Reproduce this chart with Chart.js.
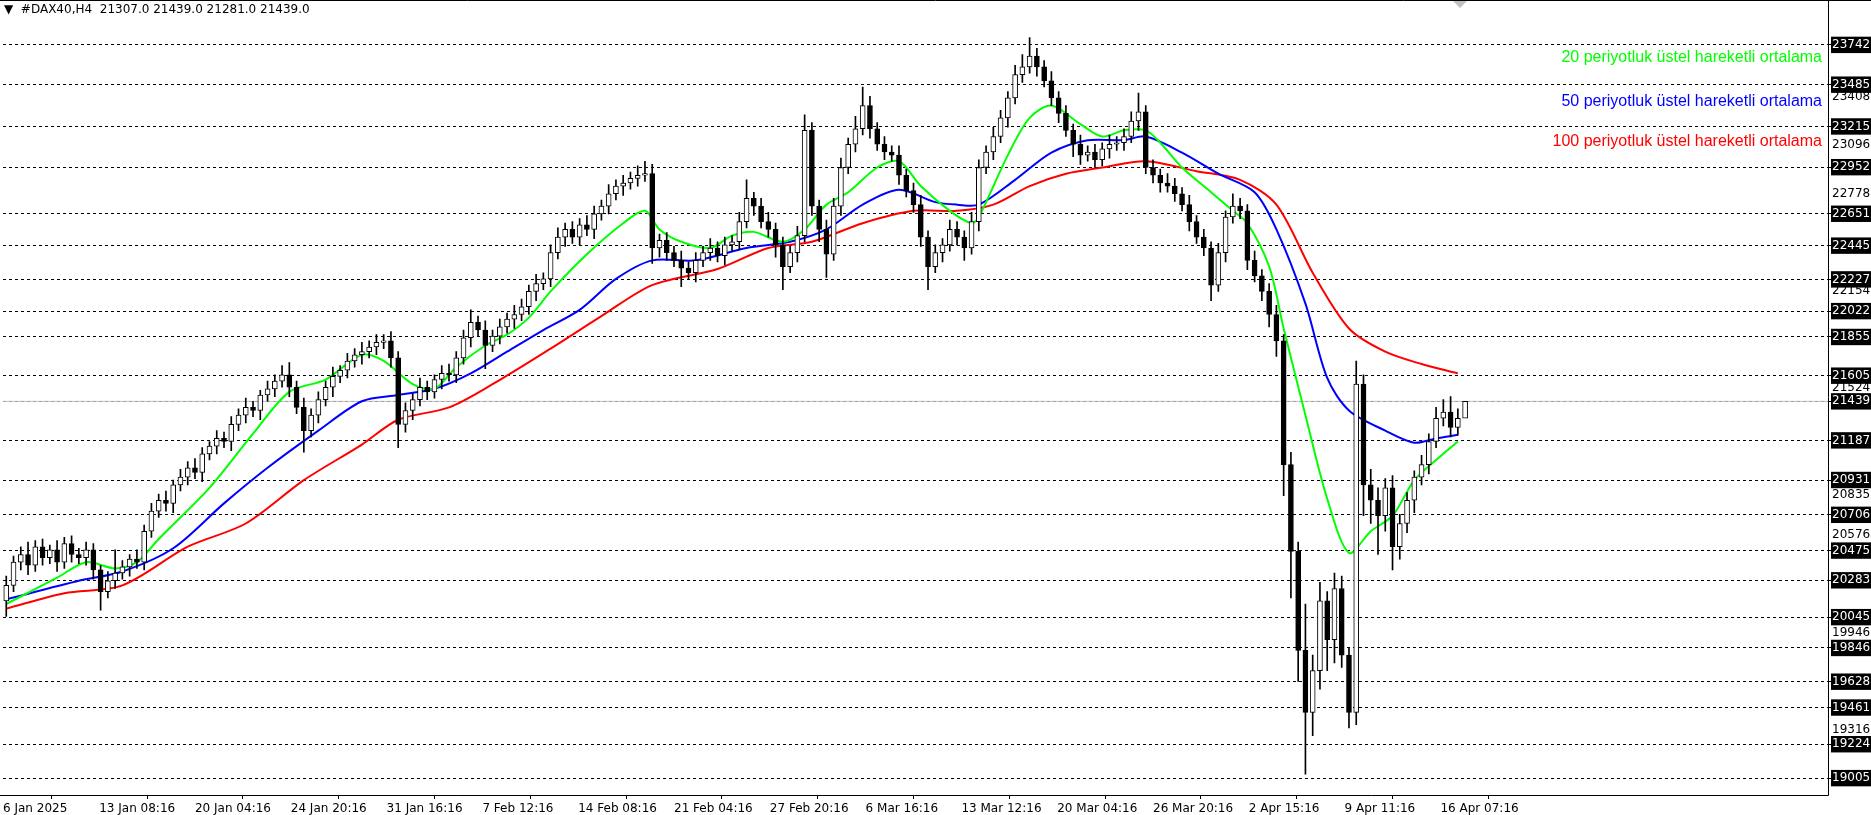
<!DOCTYPE html>
<html><head><meta charset="utf-8">
<script src="https://cdn.jsdelivr.net/npm/chart.js@4/dist/chart.umd.min.js"></script>
<style>
body{margin:0;background:#fff;overflow:hidden}
#wrap{position:relative;width:1871px;height:815px}
.lg{position:absolute;right:49px;font:16px "Liberation Sans",Arial,sans-serif;white-space:nowrap}
#hdr{position:absolute;left:4px;top:2px;font:12px "DejaVu Sans",sans-serif;color:#000}
</style></head><body>
<div id="wrap">
<canvas id="c" width="1871" height="815"></canvas>
<div id="hdr">▼&nbsp; #DAX40,H4&nbsp; 21307.0 21439.0 21281.0 21439.0</div>
<div class="lg" style="top:48px;color:#00ff00">20 periyotluk üstel hareketli ortalama</div>
<div class="lg" style="top:92px;color:#0000ff">50 periyotluk üstel hareketli ortalama</div>
<div class="lg" style="top:132px;color:#ff0000">100 periyotluk üstel hareketli ortalama</div>
</div>
<script>
const firstOpen = 20150;
const closes = [
20250,20400,20450,20380,20500,20430,20480,20400,20520,20450,20430,
20480,20350,20210,20280,20330,20370,20420,20400,20600,20730,
20800,20780,20900,20950,21010,20980,21100,21150,21200,21180,
21290,21350,21400,21380,21480,21520,21570,21610,21530,21400,
21250,21350,21450,21530,21600,21640,21700,21740,21760,21790,
21820,21830,21720,21290,21380,21450,21530,21500,21580,21620,
21610,21720,21850,21950,21900,21800,21860,21920,21970,22000,
22050,22150,22200,22230,22400,22500,22550,22500,22580,22550,
22650,22700,22780,22830,22850,22880,22900,22910,22430,22480,
22400,22350,22300,22270,22350,22400,22430,22380,22450,22470,
22600,22750,22700,22600,22550,22450,22310,22400,22510,23190,
22700,22550,22390,22700,22950,23100,23200,23350,23200,23100,
23050,23030,22900,22800,22710,22500,22310,22400,22450,22550,
22500,22430,22600,22950,23050,23150,23270,23400,23550,23600,
23670,23600,23510,23400,23300,23190,23100,23030,23050,23000,
23070,23100,23110,23150,23250,23310,22950,22900,22850,22830,
22780,22710,22600,22500,22430,22190,22400,22630,22700,22670,
22350,22250,22150,22000,21830,21030,20470,19830,19430,19700,
20150,19900,20230,19800,19430,21550,20900,20800,20700,20880,
20500,20650,20800,20950,21030,21180,21330,21370,21270,21330,21439];
const wickUp = [
60,40,50,80,40,50,30,60,40,50,40, 50,40,30,60,150,40,30,60,40,50,
40,60,30,50,40,60,40,30,50,40, 50,40,60,40,30,50,40,60,80,40,
60,40,50,40,60,30,50,40,60,40, 50,40,60,40,50,40,60,40,30,50,
60,40,50,80,40,60,40,50,40,60, 50,40,60,40,50,60,40,50,40,60,
50,40,60,40,50,40,60,80,60,40, 50,40,60,40,50,40,60,40,50,40,
60,120,40,50,60,40,50,40,60,100, 50,40,60,50,60,40,80,120,60,40,
50,40,60,40,50,60,40,50,40,60, 50,40,60,50,40,60,50,40,60,80,
120,50,40,60,40,50,40,60,40,50, 40,60,40,50,60,120,40,50,40,60,
50,40,60,40,50,40,60,40,80,50, 40,60,40,50,60,40,80,60,300,100,
120,60,100,80,50,150,60,100,80,60, 80,60,50,40,60,50,70,80,100,60];
const wickDn = [
100,40,50,60,40,50,40,60,40,50,40, 50,60,120,40,50,40,60,40,50,40,
40,50,60,40,50,40,60,40,50,40, 60,40,50,40,60,40,50,40,60,40,
140,40,50,40,60,40,50,40,60,40, 50,40,60,150,50,60,40,50,40,60,
40,50,40,60,40,150,40,50,40,60, 40,50,60,40,50,40,60,40,50,40,
60,40,50,40,60,40,50,40,100,60, 50,40,120,40,60,40,50,40,60,40,
50,40,60,40,50,80,150,40,60,40, 60,80,150,40,60,40,50,40,60,40,
50,40,60,40,50,60,150,40,60,40, 50,80,40,60,40,50,40,60,40,50,
40,60,40,50,60,40,80,60,40,50, 40,60,40,50,40,60,40,50,60,40,
50,40,60,40,50,100,40,60,40,50, 60,40,60,80,100,200,300,200,400,150,
120,200,150,80,100,80,200,150,250,100, 150,80,60,80,50,60,40,50,60,50];

const greenX = [0,7,11,15,18,21,28,34,39,44,49,52,56,59,62,66,69,72,75,80,85,88,90,93,97,100,103,107,110,113,116,120,123,126,130,133,134,138,141,144,148,151,154,157,159,162,166,169,171,174,176,179,182,185,188,191,194,197,200];
const greenY = [20130,20300,20400,20360,20400,20550,20880,21230,21500,21580,21740,21700,21550,21520,21660,21800,21870,21980,22150,22390,22590,22670,22550,22470,22430,22510,22534,22470,22550,22710,22790,22950,22990,22830,22670,22590,22630,23030,23270,23350,23230,23150,23190,23190,23110,22950,22790,22670,22590,22310,21910,21350,20810,20460,20600,20700,20930,21060,21180];
const blueX = [0,10,16,23,30,36,43,49,54,59,64,69,74,79,84,89,95,102,108,113,118,123,128,131,134,139,144,149,154,157,162,167,172,175,179,182,185,190,194,197,200];
const blueY = [20160,20280,20340,20490,20780,21010,21250,21440,21480,21520,21620,21760,21900,22030,22230,22350,22350,22430,22470,22550,22710,22806,22726,22710,22710,22870,23046,23126,23126,23150,23046,22910,22790,22550,22070,21590,21380,21250,21172,21200,21223];
const redX = [0,8,16,25,33,41,49,54,61,67,75,82,89,98,105,111,118,125,131,136,141,146,151,157,164,170,175,180,185,190,195,200];
const redY = [20100,20200,20250,20500,20650,20930,21160,21320,21400,21550,21780,21990,22190,22294,22430,22470,22590,22670,22670,22710,22830,22910,22950,22990,22926,22870,22710,22270,21910,21760,21680,21620];

const lastPrice = 21439;
const boxedTicks = [23742,23485,23215,22952,22651,22445,22227,22022,21855,21605,21439,21187,20931,20706,20475,20283,20045,19846,19628,19461,19224,19005];
const plainTicks = [23408,23096,22778,22154,21524,20835,20576,19946,19316];
const xTickPos = [-0.45,12.8,26.0,39.2,52.4,65.6,78.8,92.0,105.2,118.4,131.6,144.8,158.0,171.2,184.4,197.6];
const xTickLabels = ['6 Jan 2025','13 Jan 08:16','20 Jan 04:16','24 Jan 20:16','31 Jan 16:16','7 Feb 12:16','14 Feb 08:16','21 Feb 04:16','27 Feb 20:16','6 Mar 16:16','13 Mar 12:16','20 Mar 04:16','26 Mar 20:16','2 Apr 15:16','9 Apr 11:16','16 Apr 07:16'];

const opens = closes.map((c,i)=> i===0 ? firstOpen : closes[i-1]);
const wicks = closes.map((c,i)=>({x:i,y:[Math.min(opens[i],c)-wickDn[i], Math.max(opens[i],c)+wickUp[i]]}));
const bodies = closes.map((c,i)=>({x:i,y: opens[i]===c ? [c-6,c+6] : [opens[i],c]}));
const bodyColors = closes.map((c,i)=> c>=opens[i] ? '#ffffff' : '#000000');
const pts = (xs,ys)=>xs.map((x,i)=>({x,y:ys[i]}));

const XMIN=-0.45, XMAX=251.0;
const boxedSet = new Set(boxedTicks);

const frame = {
  id:'frame',
  afterDraw(ch){
    const c=ch.ctx, a=ch.chartArea;
    c.save();
    c.strokeStyle='#000'; c.lineWidth=1;
    c.beginPath();
    c.moveTo(0,0.5); c.lineTo(1871,0.5);
    c.moveTo(a.right+0.5,0); c.lineTo(a.right+0.5,a.bottom+0.5);
    c.moveTo(0,a.bottom+0.5); c.lineTo(a.right+0.5,a.bottom+0.5);
    c.stroke();
    c.fillStyle='#c0c0c0';
    c.beginPath(); c.moveTo(1453,1); c.lineTo(1467,1); c.lineTo(1460,8); c.closePath(); c.fill();
    c.restore();
  }
};

new Chart(document.getElementById('c'),{
  data:{datasets:[
    {type:'line',data:[{x:XMIN,y:lastPrice},{x:XMAX,y:lastPrice}],borderColor:'#c0c0c0',borderWidth:1,pointRadius:0,order:10},
    {type:'line',data:pts(redX,redY),borderColor:'#ff0000',borderWidth:2,pointRadius:0,tension:0.3,order:5},
    {type:'line',data:pts(blueX,blueY),borderColor:'#0000ff',borderWidth:2,pointRadius:0,tension:0.3,order:4},
    {type:'line',data:pts(greenX,greenY),borderColor:'#00ff00',borderWidth:2,pointRadius:0,tension:0.3,order:3},
    {type:'bar',data:wicks,backgroundColor:'#000',barThickness:1,grouped:false,order:2},
    {type:'bar',data:bodies,backgroundColor:bodyColors,borderColor:'#000',borderWidth:1,borderSkipped:false,barThickness:5,grouped:false,order:1}
  ]},
  options:{
    responsive:false,animation:false,devicePixelRatio:1,
    layout:{padding:{top:1,left:0,right:0,bottom:0}},
    plugins:{legend:{display:false},tooltip:{enabled:false}},
    scales:{
      x:{type:'linear',min:XMIN,max:XMAX,offset:false,
        afterBuildTicks(s){s.ticks=xTickPos.map(v=>({value:v}));},
        afterFit(s){s.height=20;},
        border:{display:false},
        grid:{drawOnChartArea:false,drawTicks:true,tickLength:4,color:'#000'},
        ticks:{autoSkip:false,maxRotation:0,align:'start',padding:3,color:'#000',
          font:{family:'DejaVu Sans',size:12},
          callback:(v,i)=>xTickLabels[i]}
      },
      y:{type:'linear',position:'right',min:18896,max:23979,
        afterBuildTicks(s){s.ticks=boxedTicks.concat(plainTicks).sort((a,b)=>a-b).map(v=>({value:v}));},
        afterFit(s){s.width=43;},
        border:{display:false,dash:[3,3]},
        grid:{drawTicks:true,tickLength:3,lineWidth:1,
          color:c=>boxedSet.has(c.tick&&c.tick.value)?'#000':'rgba(0,0,0,0)'},
        ticks:{autoSkip:false,padding:1,
          font:{family:'DejaVu Sans',size:12},
          color:c=>boxedSet.has(c.tick&&c.tick.value)?'#fff':'#000',
          showLabelBackdrop:c=>boxedSet.has(c.tick&&c.tick.value),
          backdropColor:'#000',backdropPadding:{left:1,right:2,top:1,bottom:1},
          callback:v=>String(v)}
      }
    }
  },
  plugins:[frame]
});
</script>
</body></html>
